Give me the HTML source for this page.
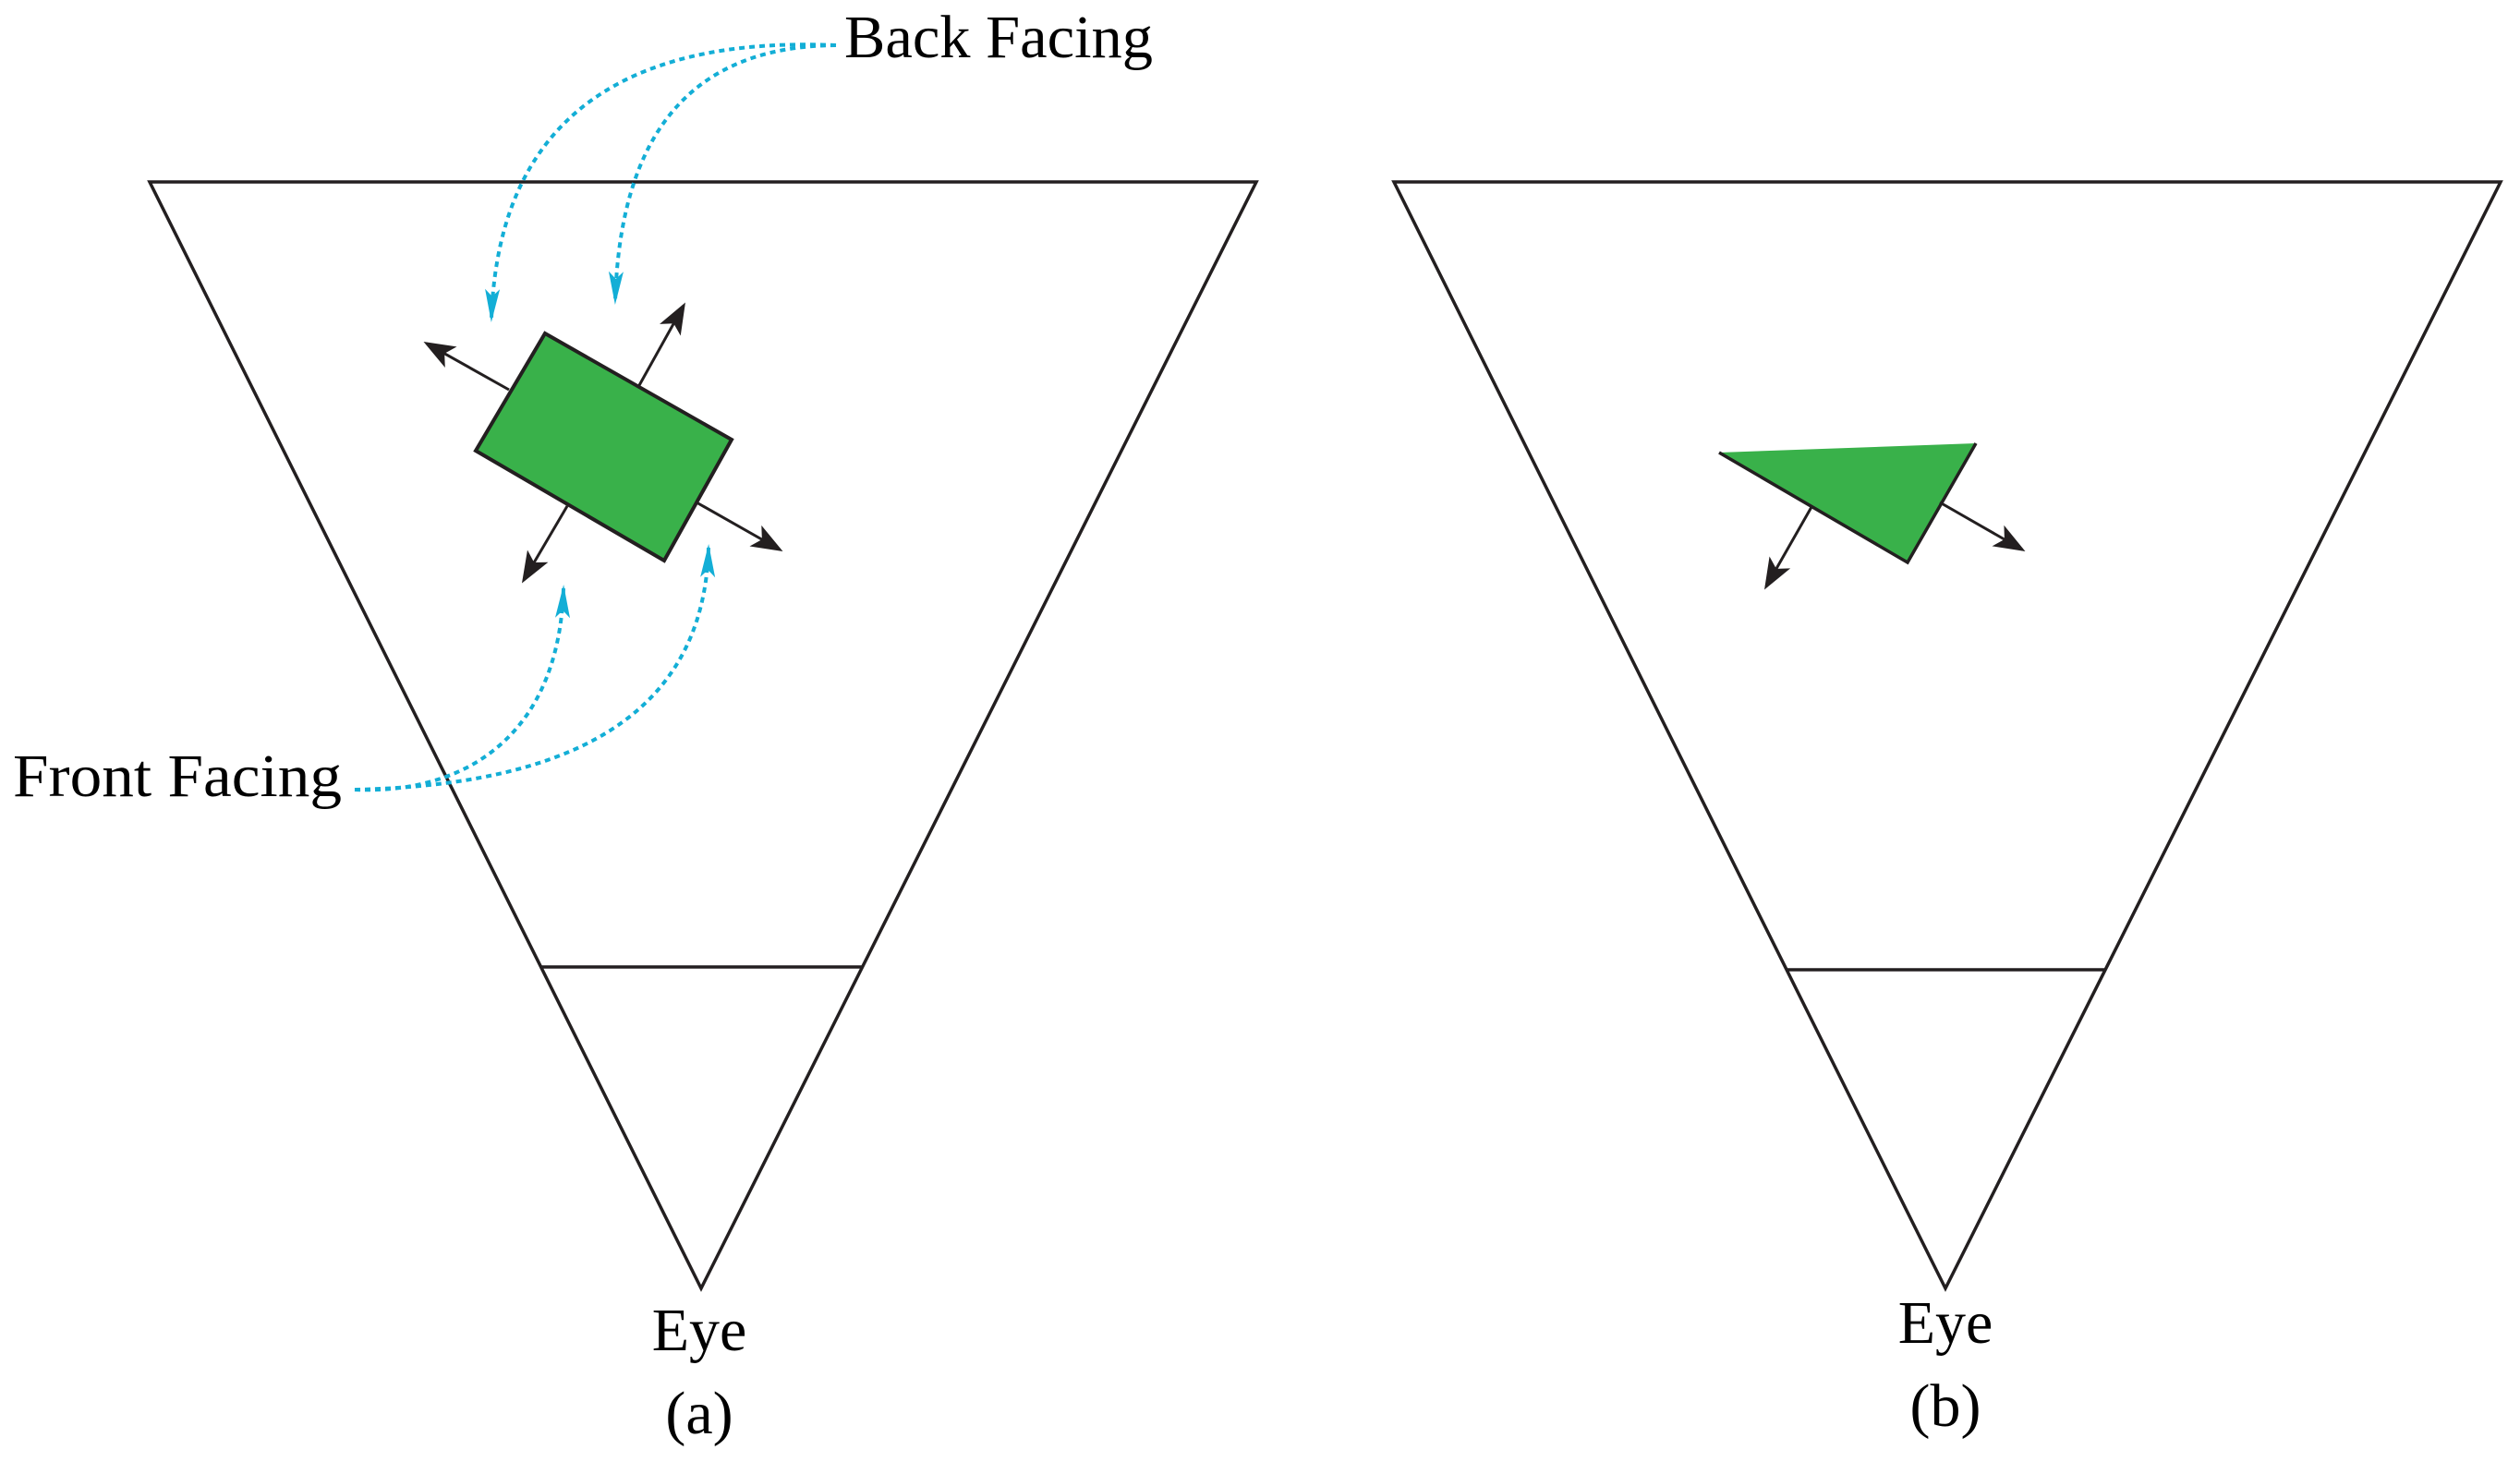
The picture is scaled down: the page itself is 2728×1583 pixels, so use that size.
<!DOCTYPE html>
<html><head><meta charset="utf-8"><style>html,body{margin:0;padding:0;background:#fff}svg{display:block}</style></head>
<body>
<svg width="2728" height="1583" viewBox="0 0 2728 1583" xmlns="http://www.w3.org/2000/svg">
<defs>
<marker id="ka" markerWidth="1" markerHeight="1" refX="0" refY="0" orient="auto" markerUnits="userSpaceOnUse" style="overflow:visible">
<path d="M-30,-13 L4,0 L-30,13 L-22,0 Z" fill="#231f20"/></marker>
<marker id="ba" markerWidth="1" markerHeight="1" refX="0" refY="0" orient="auto" markerUnits="userSpaceOnUse" style="overflow:visible">
<path d="M-32,-8 L4,0 L-32,8 L-24,0 Z" fill="#13aed6"/></marker>
</defs>
<g fill="none" stroke="#231f20" stroke-width="3.5">
<polygon points="162,197 1360,197 759,1395"/>
<line x1="586" y1="1047" x2="933" y2="1047"/>
<polygon points="1509,197 2707,197 2106,1395"/>
<line x1="1933" y1="1050" x2="2280" y2="1050"/>
</g>
<polygon points="590,361 792,476 719,607 515,488" fill="#39b14a" stroke="#231f20" stroke-width="4"/>
<g transform="translate(-5,0)">
<polygon points="1866,490 2144,480 2070,609" fill="#39b14a"/>
<polyline points="1866,490 2070,609 2144,480" fill="none" stroke="#231f20" stroke-width="3.5"/>
<g stroke="#231f20" stroke-width="3" marker-end="url(#ka)">
<line x1="1966" y1="549" x2="1917" y2="635"/>
<line x1="2105" y1="544" x2="2194" y2="595"/>
</g>
</g>
<g stroke="#231f20" stroke-width="3" marker-end="url(#ka)">
<line x1="551" y1="422" x2="462" y2="372"/>
<line x1="691" y1="419" x2="740" y2="331"/>
<line x1="614" y1="548" x2="567" y2="628"/>
<line x1="754" y1="544" x2="844" y2="595"/>
</g>
<g fill="none" stroke="#13aed6" stroke-width="4" stroke-dasharray="6 5" marker-end="url(#ba)">
<path d="M905 49 C700 40, 540 110, 532 345"/>
<path d="M905 49 C770 50, 672 120, 666 326"/>
<path d="M384 855 C500 860, 605 800, 610 637"/>
<path d="M384 855 C610 850, 762 780, 767 593"/>
</g>
<g font-family="'Liberation Serif', serif" font-size="66" fill="#000">
<text x="914" y="62" textLength="334" lengthAdjust="spacingAndGlyphs">Back Facing</text>
<text x="14" y="862" textLength="356" lengthAdjust="spacingAndGlyphs">Front Facing</text>
<text x="757" y="1462" text-anchor="middle">Eye</text>
<text x="757" y="1552" text-anchor="middle">(a)</text>
<text x="2106" y="1454" text-anchor="middle">Eye</text>
<text x="2106" y="1544" text-anchor="middle">(b)</text>
</g>
</svg>
</body></html>
